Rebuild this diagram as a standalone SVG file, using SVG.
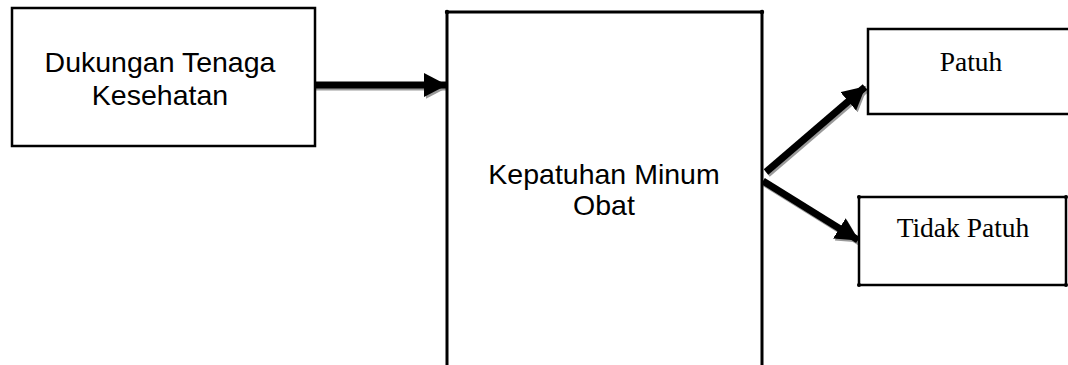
<svg xmlns="http://www.w3.org/2000/svg" width="1068" height="365" viewBox="0 0 1068 365">
<style>
.box{fill:#fff;stroke:#000;stroke-width:2.5}
.sans{font-family:"Liberation Sans",Arial,sans-serif;font-size:28.5px;fill:#000;text-anchor:middle}
.serif{font-family:"Liberation Serif","Times New Roman",serif;font-size:27.5px;fill:#000;text-anchor:middle}
.shaft{stroke:#000;stroke-width:7;fill:none}
.shadow{stroke:#9a9a9a;stroke-width:7;fill:none}
.dot{fill:#000}
</style>
<defs>
<marker id="head" markerUnits="userSpaceOnUse" markerWidth="26" markerHeight="26" refX="22" refY="12" orient="auto">
<path d="M0,0 L23,12 L0,24 Z" fill="#000"/>
</marker>
<marker id="headShadow" markerUnits="userSpaceOnUse" markerWidth="26" markerHeight="26" refX="22" refY="12" orient="auto">
<path d="M0,0 L23,12 L0,24 Z" fill="#9a9a9a"/>
</marker>
</defs>
<rect width="1068" height="365" fill="#fff"/>
<g id="connectors">
<g transform="translate(1.5,2)">
<line class="shadow" x1="310" y1="85" x2="446" y2="85" marker-end="url(#headShadow)"/>
<line class="shadow" x1="766" y1="172" x2="865" y2="87" marker-end="url(#headShadow)"/>
<line class="shadow" x1="763" y1="181" x2="858" y2="240" marker-end="url(#headShadow)"/>
</g>
<line class="shaft" x1="310" y1="85" x2="446" y2="85" marker-end="url(#head)"/>
<line class="shaft" x1="766" y1="172" x2="865" y2="87" marker-end="url(#head)"/>
<line class="shaft" x1="763" y1="181" x2="858" y2="240" marker-end="url(#head)"/>
</g>
<g id="node-dukungan">
<rect class="box" x="12" y="8" width="303" height="138"/>
<text class="sans" x="160" y="72">Dukungan Tenaga</text>
<text class="sans" x="160" y="105">Kesehatan</text>
</g>
<g id="node-kepatuhan">
<path d="M447,370 L447,12 L762,12 L762,370" fill="#fff" stroke="#000" stroke-width="3"/>
<circle class="dot" cx="447" cy="12" r="2.2"/>
<circle class="dot" cx="762" cy="12" r="2.2"/>
<text class="sans" x="604" y="184">Kepatuhan Minum</text>
<text class="sans" x="604" y="215">Obat</text>
</g>
<g id="node-patuh">
<rect class="box" x="868" y="29" width="210" height="85"/>
<text class="serif" x="971" y="71">Patuh</text>
</g>
<g id="node-tidak-patuh">
<rect class="box" x="859" y="197" width="207" height="88"/>
<circle class="dot" cx="859" cy="197" r="2"/>
<circle class="dot" cx="1066" cy="197" r="2"/>
<circle class="dot" cx="859" cy="285" r="2"/>
<circle class="dot" cx="1066" cy="285" r="2"/>
<text class="serif" x="963" y="237">Tidak Patuh</text>
</g>
</svg>
